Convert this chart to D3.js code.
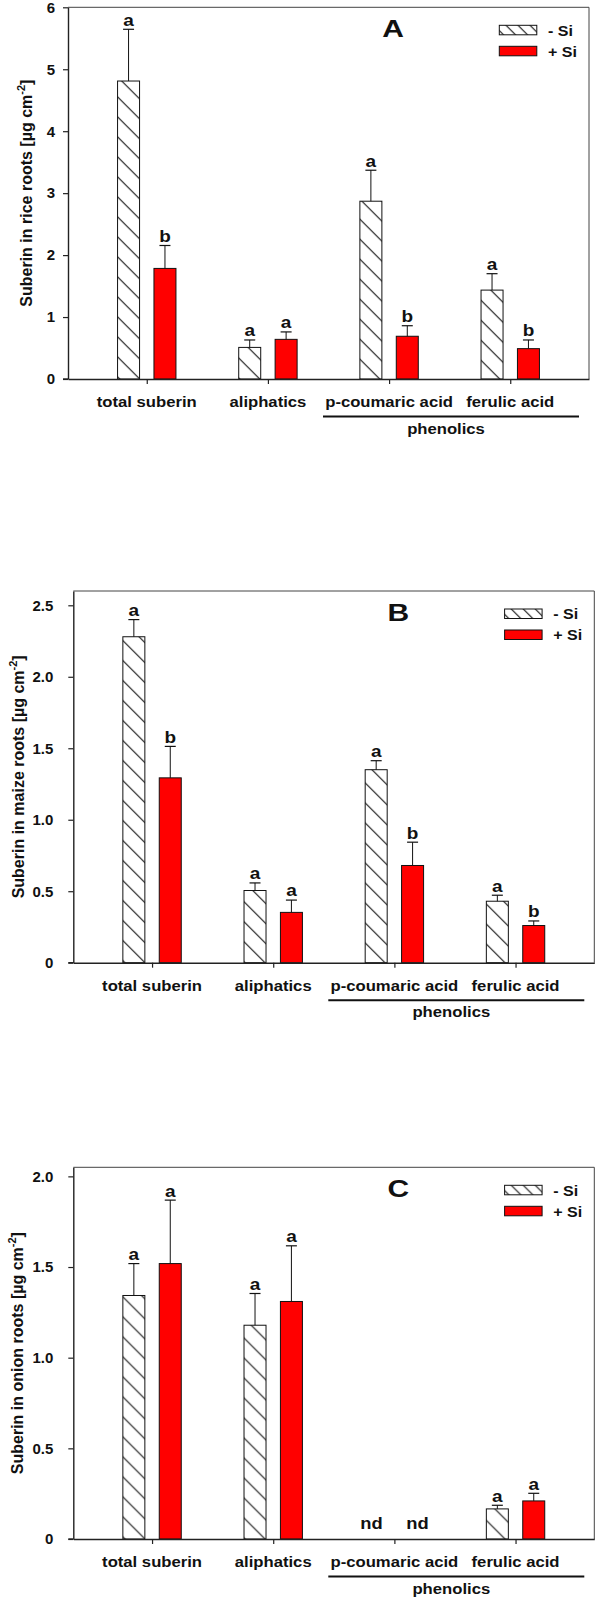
<!DOCTYPE html>
<html>
<head>
<meta charset="utf-8">
<script src="https://cdn.jsdelivr.net/npm/d3@7"></script>
<style>
  html, body { margin: 0; padding: 0; background: #fff; }
  svg { display: block; font-family: "Liberation Sans", Arial, sans-serif; }
</style>
</head>
<body>
<script>
// ---------------- data ----------------
const categories = ["total suberin", "aliphatics", "p-coumaric acid", "ferulic acid"];
const seriesNames = ["- Si", "+ Si"];

// Panel A: rice
const riceMinusSi    = [4.81, 0.51, 2.87, 1.435];
const riceMinusSiErr = [0.835, 0.12, 0.50, 0.265];
const ricePlusSi     = [1.785, 0.64, 0.69, 0.49];
const ricePlusSiErr  = [0.37, 0.12, 0.17, 0.14];
const riceMinusLetters = ["a", "a", "a", "a"];
const ricePlusLetters  = ["b", "a", "b", "b"];
const riceTicks = [0, 1, 2, 3, 4, 5, 6];
const riceTickLabels = ["0", "1", "2", "3", "4", "5", "6"];

// Panel B: maize
const maizeMinusSi    = [2.28, 0.505, 1.35, 0.43];
const maizeMinusSiErr = [0.12, 0.053, 0.063, 0.042];
const maizePlusSi     = [1.293, 0.352, 0.68, 0.26];
const maizePlusSiErr  = [0.22, 0.086, 0.163, 0.032];
const maizeMinusLetters = ["a", "a", "a", "a"];
const maizePlusLetters  = ["b", "a", "b", "b"];
const maizeTicks = [0, 0.5, 1.0, 1.5, 2.0, 2.5];
const maizeTickLabels = ["0", "0.5", "1.0", "1.5", "2.0", "2.5"];

// Panel C: onion (null = not detected)
const onionMinusSi    = [1.343, 1.179, null, 0.166];
const onionMinusSiErr = [0.176, 0.175, null, 0.02];
const onionPlusSi     = [1.519, 1.31, null, 0.21];
const onionPlusSiErr  = [0.35, 0.307, null, 0.042];
const onionMinusLetters = ["a", "a", "nd", "a"];
const onionPlusLetters  = ["a", "a", "nd", "a"];
const onionTicks = [0, 0.5, 1.0, 1.5, 2.0];
const onionTickLabels = ["0", "0.5", "1.0", "1.5", "2.0"];

const groupLabel = "phenolics";

// ---------------- layout ----------------
const W = 598, H = 1600;
const FONT = "'Liberation Sans', Arial, sans-serif";
const SX = 1.15; // horizontal stretch of the original bitmap text

const svg = d3.select("body").append("svg").attr("width", W).attr("height", H);

const defs = svg.append("defs");
function hatch(id, step) {
  const p = defs.append("pattern").attr("id", id)
    .attr("patternUnits", "userSpaceOnUse")
    .attr("width", step).attr("height", step);
  p.append("rect").attr("width", step).attr("height", step).attr("fill", "#fff");
  p.append("path")
    .attr("d", `M${-step/2},${-step/2} L${step*1.5},${step*1.5} M${-step/2},${step/2} L${step/2},${step*1.5} M${step/2},${-step/2} L${step*1.5},${step/2}`)
    .attr("stroke", "#111").attr("stroke-width", 1.1);
}
hatch("hatchBar", 20);
hatch("hatchLeg", 12);

function stext(g, x, y, str, size, anchor, scale) {
  return g.append("text")
    .attr("transform", `translate(${x},${y}) scale(${scale},1)`)
    .attr("text-anchor", anchor)
    .attr("font-size", size).attr("font-weight", "bold")
    .attr("font-family", FONT).attr("fill", "#111")
    .text(str);
}

const panels = [
  { left: 68,   top: 7.3,   yMax: 6,    ticks: riceTicks,  tickLabels: riceTickLabels,
    minus: riceMinusSi, minusErr: riceMinusSiErr, plus: ricePlusSi, plusErr: ricePlusSiErr,
    minusL: riceMinusLetters, plusL: ricePlusLetters, letter: "A", organ: "rice",
    labelGap: 13, titleX: 31.7 },
  { left: 73.3, top: 591,   yMax: 2.6,  ticks: maizeTicks, tickLabels: maizeTickLabels,
    minus: maizeMinusSi, minusErr: maizeMinusSiErr, plus: maizePlusSi, plusErr: maizePlusSiErr,
    minusL: maizeMinusLetters, plusL: maizePlusLetters, letter: "B", organ: "maize",
    labelGap: 20, titleX: 23.5 },
  { left: 73.3, top: 1167.3, yMax: 2.05, ticks: onionTicks, tickLabels: onionTickLabels,
    minus: onionMinusSi, minusErr: onionMinusSiErr, plus: onionPlusSi, plusErr: onionPlusSiErr,
    minusL: onionMinusLetters, plusL: onionPlusLetters, letter: "C", organ: "onion",
    labelGap: 20, titleX: 23 }
];

const PW = 521, PH = 371.7;
const BAR_W = 22, BAR_OFF = 7.2, CAP = 11;

panels.forEach(p => {
  const g = svg.append("g").attr("transform", `translate(${p.left},${p.top})`);
  const x = d3.scalePoint().domain(categories).range([0, PW]).padding(0.65);
  const y = d3.scaleLinear().domain([0, p.yMax]).range([PH, 0]);

  // frame (top & right)
  g.append("path").attr("d", `M0,0 H${PW} V${PH}`)
    .attr("fill", "none").attr("stroke", "#444").attr("stroke-width", 1);

  // bars
  const bars = [];
  categories.forEach((c, i) => {
    bars.push({ cat: c, v: p.minus[i], e: p.minusErr[i], l: p.minusL[i], dx: -BAR_OFF - BAR_W, s: 0, nd: -23 });
    bars.push({ cat: c, v: p.plus[i],  e: p.plusErr[i],  l: p.plusL[i],  dx: BAR_OFF,          s: 1, nd: 23 });
  });

  bars.forEach(b => {
    const cx = x(b.cat) + b.dx + BAR_W / 2;
    if (b.v == null) {
      stext(g, x(b.cat) + b.nd, y(0) - 9.7, b.l, 16, "middle", SX);
      return;
    }
    g.append("rect")
      .attr("x", x(b.cat) + b.dx).attr("y", y(b.v))
      .attr("width", BAR_W).attr("height", y(0) - y(b.v))
      .attr("fill", b.s === 0 ? "url(#hatchBar)" : "#ff0000")
      .attr("stroke", "#111").attr("stroke-width", 1);
    const ye = y(b.v + b.e);
    g.append("line").attr("x1", cx).attr("x2", cx).attr("y1", y(b.v)).attr("y2", ye)
      .attr("stroke", "#111").attr("stroke-width", 1);
    g.append("line").attr("x1", cx - CAP / 2).attr("x2", cx + CAP / 2).attr("y1", ye).attr("y2", ye)
      .attr("stroke", "#111").attr("stroke-width", 1.2);
    stext(g, cx, ye - 3.6, b.l, 16.5, "middle", SX);
  });

  // y axis
  const yAxis = d3.axisLeft(y).tickValues(p.ticks)
    .tickFormat((d, i) => p.tickLabels[i]).tickSize(5).tickSizeOuter(0).tickPadding(p.labelGap - 5);
  const ya = g.append("g").call(yAxis);
  ya.select(".domain").attr("stroke", "#222").attr("stroke-width", 1.4);
  ya.selectAll(".tick line").attr("stroke", "#222").attr("stroke-width", 1.2);
  ya.selectAll(".tick text").attr("font-size", 15).attr("font-weight", "bold")
    .attr("font-family", FONT).attr("fill", "#111");

  // x axis
  const xAxis = d3.axisBottom(x).tickSize(5).tickSizeOuter(0).tickFormat("");
  const xa = g.append("g").attr("transform", `translate(0,${PH})`).call(xAxis);
  xa.select(".domain").attr("stroke", "#222").attr("stroke-width", 1.4);
  xa.selectAll(".tick line").attr("stroke", "#222").attr("stroke-width", 1.2);
  // zero line extends under the y tick
  g.append("line").attr("x1", -5).attr("x2", 0).attr("y1", PH).attr("y2", PH)
    .attr("stroke", "#222").attr("stroke-width", 1.4);

  categories.forEach(c => stext(g, x(c), PH + 28, c, 14.5, "middle", SX));

  // phenolics bracket
  g.append("line").attr("x1", 255).attr("x2", 511).attr("y1", PH + 37.5).attr("y2", PH + 37.5)
    .attr("stroke", "#111").attr("stroke-width", 2);
  stext(g, 378, PH + 54.5, groupLabel, 14.5, "middle", SX);

  // panel letter
  stext(g, 325, 29.5, p.letter, 24, "middle", 1.25);

  // legend
  seriesNames.forEach((s, i) => {
    g.append("rect").attr("x", 431.3).attr("y", 18 + i * 21)
      .attr("width", 37.5).attr("height", 9.5)
      .attr("fill", i === 0 ? "url(#hatchLeg)" : "#ff0000")
      .attr("stroke", "#111").attr("stroke-width", 1);
    stext(g, 480, 28.3 + i * 21, s, 15, "start", 1.07);
  });

  // y title
  const tt = svg.append("text")
    .attr("transform", `translate(${p.titleX},${p.top + PH / 2}) rotate(-90)`)
    .attr("text-anchor", "middle").attr("font-size", 16).attr("font-weight", "bold")
    .attr("font-family", FONT).attr("fill", "#111");
  tt.append("tspan").text(`Suberin in ${p.organ} roots [µg cm`);
  tt.append("tspan").attr("font-size", 11).attr("dy", -7).text("-2");
  tt.append("tspan").attr("dy", 7).text("]");
});
</script>
</body>
</html>
